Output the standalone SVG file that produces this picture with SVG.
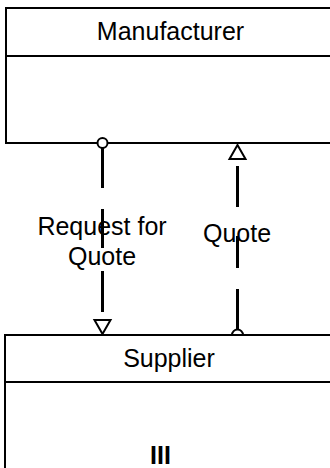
<svg xmlns="http://www.w3.org/2000/svg" width="330" height="468" viewBox="0 0 330 468">
<style>
.box{fill:#fff;stroke:#000;stroke-width:2}
.div{stroke:#000;stroke-width:2}
.t{font-family:"Liberation Sans",Arial,sans-serif;font-size:25px;fill:#000;text-anchor:middle}
.c{stroke:#000;stroke-width:3;fill:none}
.end{fill:#fff;stroke:#000;stroke-width:2}
</style>
<g id="manufacturer">
<rect class="box" x="6" y="8" width="330" height="135"/>
<line class="div" x1="6" y1="56" x2="336" y2="56"/>
<text class="t" x="170.5" y="40">Manufacturer</text>
</g>
<g id="connectors">
<g id="request-for-quote">
<path class="c" d="M102.5 148V188M102.5 209V248M102.5 271V312"/>
<circle class="end" cx="102.5" cy="143" r="5"/>
<polygon class="end" points="94.5,320 110.5,320 102.5,334"/>
<text class="t" x="102" y="235">Request for</text>
<text class="t" x="102" y="265">Quote</text>
</g>
<g id="quote">
<path class="c" d="M237.5 166V207M237.5 236V268M237.5 289V330"/>
<polygon class="end" points="237.5,145 229.5,159 245.5,159"/>
<circle class="end" cx="237.5" cy="335" r="5.5"/>
<text class="t" x="237" y="242">Quote</text>
</g>
</g>
<g id="supplier">
<rect class="box" x="5" y="335" width="330" height="140"/>
<line class="div" x1="5" y1="382" x2="335" y2="382"/>
<text class="t" x="169" y="367">Supplier</text>
<text class="t" x="160.5" y="464" font-weight="bold">III</text>
</g>
</svg>
